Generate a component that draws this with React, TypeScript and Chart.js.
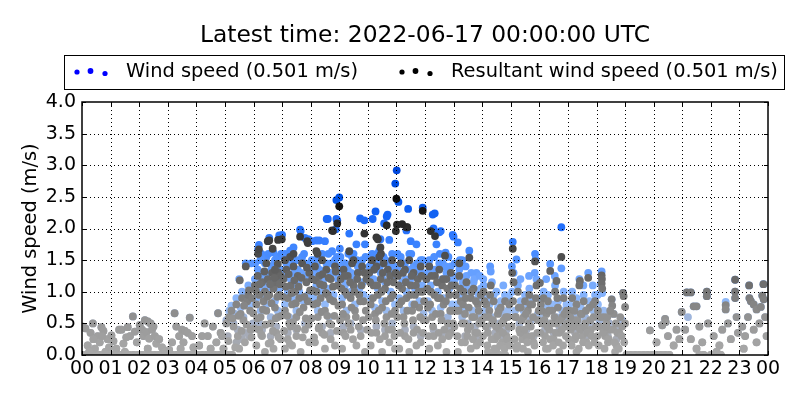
import React, { useEffect, useRef } from "react";
import { Chart, registerables } from "chart.js";

Chart.register(...registerables);

const titleText = "Latest time: 2022-06-17 00:00:00 UTC";
const seriesLabels = ["Wind speed (0.501 m/s)", "Resultant wind speed (0.501 m/s)"];
const yAxisLabel = "Wind speed (m/s)";
const hourLabels = ["00","01","02","03","04","05","06","07","08","09","10","11","12","13","14","15","16","17","18","19","20","21","22","23","00"];

// hours with calm readings (0 m/s for both series)
const calmHours = [0.0,0.15,0.3,0.45,0.6,0.75,0.9,1.05,1.2,1.35,1.5,1.65,1.8,1.95,2.1,2.25,2.4,2.55,2.7,2.85,3.0,3.15,3.3,3.45,3.6,3.75,3.9,4.05,4.2,4.35,4.5,4.65,4.8,4.95,5.1,5.25,14.4,14.6,14.8,19.05,19.2,19.35,19.5,19.65,19.8,19.95,20.1,20.25,20.4,20.55,21.6,21.75,22.0,22.2,22.35];

// night / evening readings, where wind speed and resultant coincide
const quietPoints: [number, number][] = [
  [0.03,0.45],[0.12,0.42],[0.2,0.15],[0.3,0.35],[0.38,0.5],[0.45,0.1],[0.55,0.3],[0.62,0.2],[0.68,0.44],[0.75,0.38],[0.82,0.05],[0.9,0.25],[0.95,0.12],[0.4,0.25],[0.25,0.05],[0.7,0.3],
  [1.03,0.31],[1.1,0.22],[1.2,0.1],[1.3,0.4],[1.38,0.4],[1.45,0.18],[1.5,0.05],[1.6,0.44],[1.68,0.3],[1.78,0.61],[1.85,0.37],[1.92,0.2],[1.55,0.28],
  [2.02,0.47],[2.1,0.4],[2.15,0.3],[2.2,0.55],[2.25,0.36],[2.3,0.53],[2.35,0.26],[2.4,0.5],[2.45,0.4],[2.5,0.45],[2.55,0.3],[2.6,0.18],[2.7,0.25],[2.8,0.12],[2.9,0.05],[2.3,0.1],
  [3.05,0.08],[3.15,0.2],[3.24,0.66],[3.3,0.45],[3.4,0.3],[3.5,0.4],[3.55,0.2],[3.6,0.38],[3.7,0.35],[3.77,0.59],[3.85,0.3],[3.9,0.12],[3.45,0.1],
  [4.1,0.15],[4.2,0.3],[4.29,0.5],[4.4,0.3],[4.5,0.1],[4.58,0.45],[4.7,0.2],[4.76,0.66],[4.85,0.35],[4.9,0.3],[4.95,0.1],
  [19.87,0.39],[20.3,0.47],[20.4,0.57],[20.42,0.52],[20.1,0.2],[20.5,0.3],[20.7,0.15],[20.98,0.68],[20.8,0.4],[20.9,0.25],
  [21.16,0.99],[21.3,0.99],[21.4,0.77],[21.5,0.77],[21.86,1.0],[21.86,0.93],[21.1,0.4],[21.3,0.25],[21.6,0.45],[21.7,0.2],[21.9,0.5],[21.5,0.1],
  [22.52,0.79],[22.52,0.72],[22.1,0.3],[22.3,0.15],[22.4,0.4],[22.6,0.5],[22.7,0.25],[22.85,1.19],[22.85,1.0],[22.85,0.9],[22.9,0.6],[22.95,0.35],[22.2,0.05],
  [23.34,1.1],[23.35,0.9],[23.4,0.85],[23.5,0.8],[23.6,0.72],[23.75,0.76],[23.84,1.12],[23.8,0.94],[23.85,0.88],[23.1,0.45],[23.2,0.3],[23.3,0.6],[23.5,0.4],[23.7,0.5],[23.9,0.6],[23.95,0.3],[23.15,0.1],[23.6,0.2]
];

const windPoints: [number, number][] = [
  [5.05,0.55],[5.1,0.3],[5.15,0.7],[5.23,0.78],[5.3,0.5],[5.35,0.65],[5.4,0.9],[5.45,0.4],[5.5,1.2],[5.55,0.75],[5.6,1.0],[5.65,0.6],[5.7,0.35],[5.73,1.45],[5.78,0.95],[5.82,1.1],[5.88,0.8],[5.92,1.45],[5.95,1.05],[5.98,0.5],[5.4,0.2],[5.6,0.25],[5.85,0.3],
  [6.16,1.67],[6.19,1.74],[6.28,1.6],[6.55,1.85],[6.9,1.89],[7.0,1.9],[6.93,1.84],[6.4,1.45],[6.7,1.62],[6.05,1.2],[6.1,0.9],[6.15,1.35],[6.2,1.05],[6.25,0.7],[6.3,1.25],[6.35,0.95],[6.4,1.1],[6.45,0.8],[6.5,1.3],[6.55,1.05],[6.6,0.6],[6.65,1.4],[6.7,1.15],[6.75,0.85],[6.8,1.25],[6.85,0.7],[6.9,1.05],[6.95,1.35],[6.3,0.4],[6.6,0.3],[6.8,0.45],[6.2,0.5],[6.45,1.55],[6.75,1.5],
  [7.28,1.65],[7.63,1.98],[7.65,1.96],[7.8,1.85],[7.92,1.83],[7.05,1.3],[7.1,0.8],[7.15,1.45],[7.2,1.0],[7.25,0.6],[7.3,1.2],[7.35,0.9],[7.4,1.5],[7.45,1.1],[7.5,0.7],[7.55,1.35],[7.6,1.0],[7.7,1.55],[7.75,0.85],[7.85,1.25],[7.9,0.95],[7.95,1.4],[7.5,0.4],[7.2,0.35],[7.8,0.5],[7.4,1.7],[7.1,1.6],
  [8.05,1.8],[8.2,1.81],[8.3,1.81],[8.5,1.8],[8.56,2.15],[8.6,2.15],[8.9,2.15],[8.93,2.13],[8.88,1.99],[8.9,2.45],[8.75,1.64],[8.08,1.3],[8.1,0.9],[8.15,1.5],[8.2,1.1],[8.25,0.7],[8.3,1.35],[8.35,1.0],[8.4,1.6],[8.45,1.2],[8.5,0.8],[8.55,1.45],[8.6,1.05],[8.65,0.6],[8.7,1.3],[8.8,0.95],[8.85,1.5],[8.95,1.2],[8.4,0.45],[8.7,0.35],
  [9.0,2.49],[9.02,1.68],[9.35,1.92],[9.6,1.75],[9.73,2.16],[9.88,2.13],[9.9,1.75],[9.05,1.3],[9.1,0.9],[9.15,1.45],[9.2,1.1],[9.25,0.7],[9.3,1.35],[9.4,1.0],[9.45,1.55],[9.5,1.2],[9.55,0.8],[9.65,1.4],[9.7,1.05],[9.8,1.5],[9.85,0.95],[9.95,1.3],[9.4,0.5],[9.75,0.4],[9.15,0.45],[9.5,1.6],
  [10.17,2.15],[10.27,2.27],[10.57,2.08],[10.66,2.19],[10.69,2.22],[10.96,2.71],[11.01,2.92],[11.07,2.42],[10.44,1.83],[10.75,1.82],[10.05,1.4],[10.1,0.9],[10.15,1.6],[10.2,1.2],[10.25,0.75],[10.3,1.5],[10.35,1.05],[10.4,1.65],[10.45,1.3],[10.5,0.85],[10.55,1.55],[10.6,1.15],[10.65,0.7],[10.7,1.45],[10.8,1.0],[10.85,1.6],[10.9,1.25],[10.95,0.8],[10.3,0.45],[10.6,0.4],[10.85,0.5],
  [11.41,2.31],[11.92,2.33],[11.35,1.97],[11.5,1.8],[11.7,1.75],[11.05,1.35],[11.1,0.9],[11.15,1.55],[11.2,1.15],[11.25,0.7],[11.3,1.45],[11.35,1.0],[11.45,1.6],[11.5,1.2],[11.55,0.8],[11.6,1.4],[11.65,1.05],[11.75,1.3],[11.8,0.85],[11.85,1.5],[11.9,1.1],[11.95,0.65],[11.3,0.4],[11.6,0.45],[11.85,0.3],
  [12.27,2.22],[12.34,2.24],[12.3,2.0],[12.5,1.94],[12.55,1.96],[12.97,1.9],[13.0,1.87],[12.72,1.62],[12.4,1.75],[12.05,1.3],[12.1,0.85],[12.15,1.5],[12.2,1.1],[12.25,0.7],[12.35,1.35],[12.45,1.0],[12.5,1.45],[12.55,0.75],[12.6,1.2],[12.65,0.9],[12.75,1.3],[12.8,0.6],[12.85,1.05],[12.9,1.4],[12.95,0.8],[12.3,0.4],[12.6,0.35],[12.9,0.45],
  [13.15,1.78],[13.55,1.65],[13.3,1.5],[13.8,1.3],[13.05,1.2],[13.1,0.8],[13.2,1.35],[13.25,0.95],[13.3,0.6],[13.35,1.1],[13.4,0.75],[13.45,1.25],[13.5,0.5],[13.6,1.0],[13.65,0.7],[13.7,1.15],[13.75,0.45],[13.85,0.9],[13.9,0.6],[13.95,1.05],[13.4,0.3],[13.8,0.25],
  [14.28,1.4],[14.3,1.32],[14.5,1.0],[14.05,1.1],[14.1,0.7],[14.15,0.9],[14.2,0.45],[14.25,0.8],[14.35,0.6],[14.4,0.95],[14.45,0.35],[14.55,0.75],[14.6,0.5],[14.65,0.85],[14.7,0.3],[14.75,0.65],[14.8,0.95],[14.85,0.4],[14.9,0.7],[14.95,0.9],
  [15.07,1.79],[15.2,1.51],[15.85,1.6],[15.87,1.51],[15.1,1.3],[15.05,1.0],[15.15,0.7],[15.25,1.1],[15.3,0.5],[15.35,0.85],[15.4,0.35],[15.45,0.7],[15.5,0.95],[15.55,0.4],[15.6,0.8],[15.65,1.05],[15.7,0.55],[15.75,0.9],[15.8,0.3],[15.9,1.2],[15.95,0.65],
  [16.38,1.44],[16.77,2.02],[16.77,1.37],[16.05,0.9],[16.1,0.6],[16.15,1.0],[16.2,0.4],[16.25,0.75],[16.3,0.95],[16.35,0.5],[16.45,0.8],[16.5,0.35],[16.55,1.1],[16.6,0.6],[16.65,0.85],[16.7,0.45],[16.8,0.7],[16.85,1.0],[16.9,0.55],[16.95,0.8],
  [17.71,1.3],[17.87,1.1],[17.05,0.8],[17.1,0.5],[17.15,1.0],[17.2,0.65],[17.25,0.35],[17.3,0.9],[17.35,0.55],[17.4,1.2],[17.45,0.75],[17.5,0.4],[17.55,0.95],[17.6,0.6],[17.65,0.3],[17.75,0.85],[17.8,0.5],[17.9,0.7],[17.95,0.95],
  [18.18,1.32],[18.15,1.13],[18.2,0.98],[18.05,0.8],[18.1,0.55],[18.25,0.7],[18.3,0.4],[18.35,0.6],[18.4,0.3],[18.45,0.5],[18.53,0.88],[18.6,0.65],[18.7,0.25],[18.8,0.45],[18.9,0.55],[18.93,0.98],
  [21.2,0.6],[22.52,0.84]
];

// further wind-speed readings filling the daytime cloud
const windPointsMore: [number, number][] = [
  [6.06,1.45],[6.12,1.15],[6.24,1.5],[6.34,1.3],[6.44,1.2],[6.52,1.6],[6.62,1.35],[6.72,1.45],[6.82,1.55],[6.87,1.2],[6.97,1.6],
  [7.04,1.55],[7.14,1.25],[7.22,1.4],[7.32,1.6],[7.42,1.3],[7.52,1.5],[7.57,1.15],[7.67,1.3],[7.77,1.6],[7.82,1.45],[7.97,1.25],
  [8.04,1.5],[8.12,1.25],[8.22,1.4],[8.32,1.55],[8.42,1.15],[8.52,1.35],[8.62,1.6],[8.72,1.45],[8.82,1.3],[8.92,1.55],[8.97,1.4],
  [9.04,1.55],[9.12,1.2],[9.22,1.45],[9.32,1.6],[9.42,1.3],[9.52,1.25],[9.62,1.5],[9.72,1.35],[9.82,1.15],[9.92,1.55],
  [10.04,1.25],[10.12,1.45],[10.22,1.35],[10.32,1.6],[10.42,1.4],[10.52,1.2],[10.62,1.5],[10.72,1.3],[10.82,1.4],[10.92,1.4],
  [11.04,1.6],[11.12,1.3],[11.22,1.45],[11.32,1.2],[11.42,1.35],[11.52,1.6],[11.62,1.25],[11.72,1.45],[11.82,1.35],[11.92,1.5],
  [12.04,1.2],[12.12,1.45],[12.22,1.3],[12.32,1.55],[12.42,1.35],[12.52,1.6],[12.62,1.45],[12.72,1.4],[12.82,1.55],[12.92,1.2],
  [13.04,1.45],[13.12,1.25],[13.22,1.5],[13.32,1.15],[13.42,1.4],[13.52,1.05],[13.62,1.3],[13.72,1.2],[13.82,1.0],[13.92,1.25],
  [14.04,1.2],[14.34,1.15],[14.74,1.1],[15.04,1.4],[15.34,1.2],[15.64,1.25],[15.84,1.3],[16.24,1.2],[16.54,1.25],[17.54,1.1],[18.04,0.95]
];

const resultantPoints: [number, number][] = [
  [5.05,0.5],[5.15,0.6],[5.23,0.7],[5.3,0.45],[5.4,0.8],[5.45,0.3],[5.52,1.18],[5.55,0.65],[5.6,0.9],[5.65,0.55],[5.73,1.4],[5.78,0.85],[5.82,0.95],[5.88,0.7],[5.95,0.9],[5.5,0.1],[5.7,0.2],[5.9,0.4],
  [6.16,1.6],[6.19,1.67],[6.5,1.8],[6.55,1.81],[6.67,1.68],[6.86,1.82],[6.99,1.83],[6.85,1.44],[6.86,1.31],[6.05,1.1],[6.1,0.8],[6.15,1.25],[6.2,0.95],[6.25,0.6],[6.3,1.15],[6.35,0.85],[6.4,1.0],[6.45,0.7],[6.5,1.2],[6.55,0.95],[6.6,0.5],[6.65,1.3],[6.7,1.05],[6.75,0.75],[6.8,1.15],[6.85,0.6],[6.9,0.95],[6.95,1.25],[6.3,0.3],[6.6,0.2],[6.8,0.35],[6.2,0.4],[6.45,1.45],[6.75,1.35],[6.1,0.15],[6.4,0.05],[6.7,0.1],[6.95,0.25],
  [7.28,1.55],[7.63,1.87],[7.88,1.8],[7.9,1.77],[7.05,1.2],[7.1,0.7],[7.15,1.35],[7.2,0.9],[7.25,0.5],[7.3,1.1],[7.35,0.8],[7.4,1.4],[7.45,1.0],[7.5,0.6],[7.55,1.25],[7.6,0.9],[7.7,1.45],[7.75,0.75],[7.85,1.15],[7.9,0.85],[7.95,1.3],[7.5,0.3],[7.2,0.25],[7.8,0.4],[7.1,0.1],[7.35,0.15],[7.65,0.05],[7.95,0.2],[7.4,1.6],[7.1,1.5],[7.3,0.45],
  [8.2,1.64],[8.24,1.6],[8.75,1.97],[8.78,1.96],[8.93,2.08],[8.05,1.2],[8.1,0.8],[8.15,1.4],[8.2,1.0],[8.25,0.6],[8.3,1.25],[8.35,0.9],[8.4,1.5],[8.45,1.1],[8.5,0.7],[8.55,1.35],[8.6,0.95],[8.65,0.5],[8.7,1.2],[8.8,0.85],[8.85,1.4],[8.95,1.1],[8.4,0.35],[8.7,0.25],[8.15,0.2],[8.5,0.1],[8.85,0.15],[8.3,0.45],
  [9.0,2.35],[9.35,1.64],[9.88,1.92],[9.05,1.2],[9.1,0.8],[9.15,1.35],[9.2,1.0],[9.25,0.6],[9.3,1.25],[9.4,0.9],[9.45,1.45],[9.5,1.1],[9.55,0.7],[9.65,1.3],[9.7,0.95],[9.8,1.4],[9.85,0.85],[9.95,1.2],[9.4,0.4],[9.75,0.3],[9.15,0.35],[9.1,0.1],[9.6,0.15],[9.9,0.05],[9.5,1.5],
  [10.3,1.86],[10.35,1.83],[10.44,1.7],[10.46,1.6],[10.66,2.05],[10.98,1.96],[11.0,2.47],[10.05,1.3],[10.1,0.8],[10.15,1.5],[10.2,1.1],[10.25,0.65],[10.3,1.4],[10.35,0.95],[10.4,1.55],[10.45,1.2],[10.5,0.75],[10.55,1.45],[10.6,1.05],[10.65,0.6],[10.7,1.35],[10.8,0.9],[10.85,1.5],[10.9,1.15],[10.95,0.7],[10.3,0.35],[10.6,0.3],[10.85,0.4],[10.1,0.15],[10.5,0.05],[10.75,0.2],[10.95,0.1],
  [11.02,2.06],[11.35,2.02],[11.38,2.02],[11.2,2.07],[11.92,2.28],[11.05,1.25],[11.1,0.8],[11.15,1.45],[11.2,1.05],[11.25,0.6],[11.3,1.35],[11.35,0.9],[11.45,1.5],[11.5,1.1],[11.55,0.7],[11.6,1.3],[11.65,0.95],[11.75,1.2],[11.8,0.75],[11.85,1.4],[11.9,1.0],[11.95,0.55],[11.3,0.3],[11.6,0.35],[11.85,0.2],[11.1,0.1],[11.45,0.05],[11.7,0.15],
  [12.2,1.96],[12.35,1.88],[12.7,1.57],[12.05,1.2],[12.1,0.75],[12.15,1.4],[12.2,1.0],[12.25,0.6],[12.35,1.25],[12.45,0.9],[12.5,1.35],[12.55,0.65],[12.6,1.1],[12.65,0.8],[12.75,1.2],[12.8,0.5],[12.85,0.95],[12.9,1.3],[12.95,0.7],[12.3,0.3],[12.6,0.25],[12.9,0.35],[12.15,0.1],[12.45,0.15],[12.75,0.05],
  [13.55,1.54],[13.2,1.45],[13.05,1.1],[13.1,0.7],[13.2,1.25],[13.25,0.85],[13.3,0.5],[13.35,1.0],[13.4,0.65],[13.45,1.15],[13.5,0.4],[13.6,0.9],[13.65,0.6],[13.7,1.05],[13.75,0.35],[13.85,0.8],[13.9,0.5],[13.95,0.95],[13.4,0.2],[13.8,0.15],[13.15,0.05],[13.6,0.1],
  [14.05,1.0],[14.1,0.6],[14.15,0.8],[14.2,0.35],[14.25,0.7],[14.35,0.5],[14.4,0.85],[14.45,0.25],[14.55,0.65],[14.6,0.4],[14.65,0.75],[14.7,0.2],[14.75,0.55],[14.8,0.85],[14.85,0.3],[14.9,0.6],[14.95,0.8],[14.3,1.1],[14.5,0.1],[14.2,0.05],[14.8,0.15],
  [15.07,1.68],[15.05,1.3],[15.1,1.15],[15.15,0.6],[15.25,1.0],[15.3,0.4],[15.35,0.75],[15.4,0.25],[15.45,0.6],[15.5,0.85],[15.55,0.3],[15.6,0.7],[15.65,0.95],[15.7,0.45],[15.75,0.8],[15.8,0.2],[15.85,1.48],[15.9,1.1],[15.95,0.55],[15.2,0.1],[15.6,0.05],
  [16.02,1.14],[16.38,1.33],[16.6,1.17],[16.77,1.55],[16.05,0.8],[16.1,0.5],[16.15,0.9],[16.2,0.3],[16.25,0.65],[16.3,0.85],[16.35,0.4],[16.45,0.7],[16.5,0.25],[16.55,1.0],[16.6,0.5],[16.65,0.75],[16.7,0.35],[16.8,0.6],[16.85,0.9],[16.9,0.45],[16.95,0.7],[16.3,0.1],[16.7,0.05],
  [17.42,1.17],[17.71,1.22],[17.05,0.7],[17.1,0.4],[17.15,0.9],[17.2,0.55],[17.25,0.25],[17.3,0.8],[17.35,0.45],[17.4,1.1],[17.45,0.65],[17.5,0.3],[17.55,0.85],[17.6,0.5],[17.65,0.2],[17.75,0.75],[17.8,0.4],[17.9,0.6],[17.95,0.85],[17.3,0.05],
  [18.18,1.26],[18.19,1.2],[18.18,1.13],[18.2,1.05],[18.05,0.7],[18.1,0.45],[18.25,0.6],[18.3,0.3],[18.35,0.5],[18.4,0.2],[18.45,0.4],[18.53,0.88],[18.55,0.78],[18.6,0.65],[18.7,0.15],[18.8,0.35],[18.9,0.45],[18.93,0.98],[18.95,0.93],[19.0,0.76],[19.0,0.5],[18.65,0.05]
];

// further resultant readings filling the daytime cloud
const resultantPointsMore: [number, number][] = [
  [5.12,0.22],[5.27,0.58],[5.36,0.12],[5.48,0.62],[5.58,0.38],[5.67,0.78],[5.76,0.48],[5.84,1.02],[5.93,0.28],[5.99,0.66],
  [6.03,0.42],[6.08,1.02],[6.13,0.58],[6.22,1.12],[6.27,0.32],[6.33,0.72],[6.38,1.32],[6.42,0.48],[6.48,0.92],[6.53,0.18],[6.58,1.12],[6.63,0.82],[6.68,0.38],[6.73,1.22],[6.78,0.58],[6.83,0.92],[6.88,0.28],[6.92,1.12],[6.97,0.62],
  [7.03,0.92],[7.07,0.38],[7.13,1.08],[7.18,0.62],[7.23,1.28],[7.27,0.18],[7.33,0.98],[7.38,0.52],[7.43,1.18],[7.48,0.82],[7.53,0.42],[7.58,1.08],[7.62,0.68],[7.68,1.22],[7.72,0.28],[7.78,0.92],[7.83,0.58],[7.87,1.38],[7.93,0.48],[7.98,1.02],
  [8.03,0.58],[8.07,1.02],[8.12,0.28],[8.18,1.18],[8.23,0.82],[8.28,0.42],[8.33,1.12],[8.38,0.68],[8.42,1.28],[8.48,0.32],[8.53,0.98],[8.58,0.62],[8.63,1.22],[8.68,0.88],[8.72,0.48],[8.78,1.08],[8.83,0.62],[8.88,1.32],[8.92,0.38],[8.97,0.78],
  [9.03,0.55],[9.08,1.05],[9.13,0.65],[9.18,1.25],[9.22,0.3],[9.28,0.95],[9.33,0.5],[9.38,1.15],[9.43,0.75],[9.48,0.25],[9.53,1.0],[9.58,0.6],[9.63,1.2],[9.68,0.45],[9.73,0.85],[9.78,1.1],[9.83,0.55],[9.88,1.3],[9.93,0.7],[9.98,0.4],
  [10.03,0.6],[10.08,1.15],[10.13,0.35],[10.18,0.9],[10.22,1.35],[10.28,0.55],[10.33,1.1],[10.38,0.7],[10.42,0.25],[10.48,1.0],[10.52,1.3],[10.58,0.5],[10.63,0.85],[10.68,1.15],[10.72,0.4],[10.78,1.25],[10.83,0.65],[10.88,0.95],[10.93,0.3],[10.97,1.3],
  [11.03,0.6],[11.08,1.1],[11.13,0.35],[11.18,0.85],[11.23,1.3],[11.28,0.5],[11.33,1.15],[11.38,0.7],[11.42,0.25],[11.48,0.95],[11.53,1.25],[11.58,0.55],[11.63,0.8],[11.68,1.1],[11.72,0.4],[11.78,1.0],[11.83,0.6],[11.88,1.25],[11.93,0.35],[11.97,0.85],
  [12.03,0.55],[12.08,1.05],[12.13,0.3],[12.18,0.8],[12.22,1.25],[12.28,0.45],[12.33,0.95],[12.38,0.65],[12.42,1.15],[12.48,0.35],[12.53,0.9],[12.58,0.55],[12.63,1.2],[12.68,0.4],[12.73,0.85],[12.78,1.05],[12.83,0.3],[12.88,0.7],[12.93,1.1],[12.98,0.5],
  [13.03,0.45],[13.08,0.95],[13.13,0.3],[13.18,0.7],[13.23,1.05],[13.28,0.2],[13.33,0.8],[13.38,0.5],[13.43,0.9],[13.48,0.3],[13.53,0.75],[13.58,0.45],[13.63,1.0],[13.68,0.25],[13.73,0.6],[13.78,0.85],[13.83,0.35],[13.88,0.7],[13.93,0.2],[13.98,0.55],
  [14.03,0.3],[14.08,0.85],[14.13,0.45],[14.18,0.15],[14.23,0.6],[14.28,0.95],[14.33,0.25],[14.38,0.55],[14.43,0.1],[14.48,0.45],[14.53,0.3],[14.58,0.7],[14.63,0.15],[14.68,0.5],[14.73,0.35],[14.78,0.1],[14.83,0.6],[14.88,0.25],[14.93,0.45],[14.98,0.15],
  [15.03,0.45],[15.08,0.85],[15.13,0.25],[15.18,0.6],[15.23,0.15],[15.28,0.75],[15.33,0.35],[15.38,0.55],[15.43,0.1],[15.48,0.4],[15.53,0.65],[15.58,0.2],[15.63,0.5],[15.68,0.8],[15.73,0.3],[15.78,0.6],[15.83,0.15],[15.88,0.9],[15.93,0.35],[15.98,0.7],
  [16.03,0.35],[16.08,0.7],[16.13,0.2],[16.18,0.55],[16.23,0.1],[16.28,0.45],[16.33,0.7],[16.38,0.25],[16.43,0.5],[16.48,0.15],[16.53,0.6],[16.58,0.35],[16.63,0.9],[16.68,0.2],[16.73,0.55],[16.78,0.4],[16.83,0.15],[16.88,0.65],[16.93,0.3],[16.98,0.5],
  [17.03,0.25],[17.08,0.6],[17.13,0.15],[17.18,0.45],[17.23,0.7],[17.28,0.3],[17.33,0.55],[17.38,0.1],[17.43,0.4],[17.48,0.65],[17.53,0.2],[17.58,0.45],[17.63,0.7],[17.68,0.35],[17.73,0.15],[17.78,0.55],[17.83,0.3],[17.88,0.8],[17.93,0.2],[17.98,0.45],
  [18.03,0.3],[18.08,0.15],[18.13,0.6],[18.23,0.35],[18.28,0.1],[18.33,0.45],[18.38,0.6],[18.43,0.25],[18.48,0.7],[18.58,0.4],[18.63,0.2],[18.68,0.5],[18.73,0.35],[18.78,0.1],[18.83,0.6],[18.88,0.3],[18.97,0.2]
];

type Stop = [number, [number, number, number]];
const windColorStops: Stop[] = [
  [0, [165, 165, 165]], [0.45, [166, 174, 192]], [0.75, [150, 188, 248]], [1.2, [112, 166, 255]],
  [1.6, [72, 140, 255]], [2.0, [35, 112, 252]], [2.5, [0, 82, 232]], [3.0, [0, 70, 220]]
];
const resultantColorStops: Stop[] = [
  [0, [170, 170, 170]], [0.5, [152, 152, 152]], [0.9, [126, 126, 126]], [1.3, [98, 98, 98]],
  [1.7, [68, 68, 68]], [2.0, [45, 45, 45]], [2.4, [15, 15, 15]]
];

function rampColor(stops: Stop[], v: number): string {
  if (v <= stops[0][0]) return `rgb(${stops[0][1].join(",")})`;
  for (let i = 1; i < stops.length; i++) {
    if (v <= stops[i][0]) {
      const [v0, c0] = stops[i - 1];
      const [v1, c1] = stops[i];
      const t = (v - v0) / (v1 - v0);
      const c = c0.map((a, k) => Math.round(a + (c1[k] - a) * t));
      return `rgb(${c.join(",")})`;
    }
  }
  return `rgb(${stops[stops.length - 1][1].join(",")})`;
}

const FONT = '"DejaVu Sans", sans-serif';

const decorPlugin = {
  id: "decor",
  afterDatasetsDraw(chart: any) {
    const { ctx, chartArea, scales } = chart;
    const { left, right, top, bottom } = chartArea;
    const x = scales.x;
    const y = scales.y;
    ctx.save();
    ctx.strokeStyle = "#000";
    ctx.lineWidth = 1;
    ctx.setLineDash([1, 3]);
    for (let h = 1; h < hourLabels.length - 1; h++) {
      const px = Math.round(x.getPixelForValue(h)) + 0.5;
      ctx.beginPath();
      ctx.moveTo(px, top);
      ctx.lineTo(px, bottom);
      ctx.stroke();
    }
    for (let v = 0.5; v < 4; v += 0.5) {
      const py = Math.round(y.getPixelForValue(v)) + 0.5;
      ctx.beginPath();
      ctx.moveTo(left, py);
      ctx.lineTo(right, py);
      ctx.stroke();
    }
    ctx.setLineDash([]);
    for (let h = 0; h < hourLabels.length; h++) {
      const px = Math.round(x.getPixelForValue(h)) + 0.5;
      ctx.beginPath();
      ctx.moveTo(px, bottom);
      ctx.lineTo(px, bottom - 4);
      ctx.moveTo(px, top);
      ctx.lineTo(px, top + 4);
      ctx.stroke();
    }
    for (let v = 0; v <= 4; v += 0.5) {
      const py = Math.round(y.getPixelForValue(v)) + 0.5;
      ctx.beginPath();
      ctx.moveTo(left, py);
      ctx.lineTo(left + 4, py);
      ctx.moveTo(right, py);
      ctx.lineTo(right - 4, py);
      ctx.stroke();
    }
    ctx.lineWidth = 1.5;
    ctx.strokeRect(left, top, right - left, bottom - top);
    ctx.restore();
  },
  afterDraw(chart: any) {
    const { ctx, chartArea } = chart;
    const cx = (chartArea.left + chartArea.right) / 2;
    ctx.save();
    ctx.fillStyle = "#000";
    ctx.font = `23.4px ${FONT}`;
    ctx.textAlign = "center";
    ctx.textBaseline = "alphabetic";
    ctx.fillText(titleText, cx, 42);

    // legend box
    ctx.fillStyle = "#fff";
    ctx.fillRect(64, 55, 721, 35);
    ctx.strokeStyle = "#000";
    ctx.lineWidth = 1;
    ctx.strokeRect(64.5, 55.5, 720, 34);
    const dots = (x0: number, color: string) => {
      ctx.fillStyle = color;
      const offs = [[0, 72, 2.6], [13.5, 71, 2.9], [28, 73.5, 2.6]];
      for (const [dx, yy, r] of offs) {
        ctx.beginPath();
        ctx.arc(x0 + dx, yy, r, 0, Math.PI * 2);
        ctx.fill();
      }
    };
    dots(77, "#0000ff");
    dots(402, "#000000");
    ctx.fillStyle = "#000";
    ctx.font = `19.4px ${FONT}`;
    ctx.textAlign = "left";
    ctx.textBaseline = "middle";
    ctx.fillText(seriesLabels[0], 126, 72);
    ctx.fillText(seriesLabels[1], 451, 72);

    // y axis label
    ctx.translate(31, (chartArea.top + chartArea.bottom) / 2);
    ctx.rotate(-Math.PI / 2);
    ctx.textAlign = "center";
    ctx.textBaseline = "middle";
    ctx.fillText(yAxisLabel, 0, 0);
    ctx.restore();
  }
};

export default function App() {
  const canvasRef = useRef<HTMLCanvasElement | null>(null);

  useEffect(() => {
    document.body.style.margin = "0";
    const canvas = canvasRef.current;
    if (!canvas) return;
    const toXY = (p: [number, number]) => ({ x: p[0], y: p[1] });
    const calm = calmHours.map((h) => ({ x: h, y: 0 }));
    const quiet = quietPoints.map(toXY);
    const wind = [...calm, ...quiet, ...windPoints.map(toXY), ...windPointsMore.map(toXY)];
    const res = [...calm, ...quiet, ...resultantPoints.map(toXY), ...resultantPointsMore.map(toXY)];

    const chart = new Chart(canvas, {
      type: "scatter",
      data: {
        datasets: [
          {
            label: seriesLabels[1],
            data: res,
            pointRadius: 3.9,
            pointBorderWidth: 0,
            pointHoverRadius: 3.9,
            backgroundColor: (c: any) => rampColor(resultantColorStops, c.raw ? c.raw.y : 0),
            clip: 0
          },
          {
            label: seriesLabels[0],
            data: wind,
            pointRadius: 3.9,
            pointBorderWidth: 0,
            pointHoverRadius: 3.9,
            backgroundColor: (c: any) => rampColor(windColorStops, c.raw ? c.raw.y : 0),
            clip: 0
          }
        ]
      } as any,
      plugins: [decorPlugin],
      options: {
        responsive: false,
        animation: false,
        devicePixelRatio: 1,
        events: [],
        layout: { padding: { left: 0, right: 32, top: 102, bottom: 0 } },
        plugins: { legend: { display: false }, title: { display: false }, tooltip: { enabled: false } },
        scales: {
          x: {
            type: "linear",
            min: 0,
            max: 24,
            afterFit: (s: any) => { s.height = 45; },
            grid: { display: false, drawTicks: false },
            border: { display: false },
            ticks: {
              stepSize: 1,
              autoSkip: false,
              maxRotation: 0,
              padding: 3,
              color: "#000",
              font: { family: FONT, size: 19 },
              callback: (v: any) => hourLabels[Math.round(Number(v))] ?? ""
            }
          },
          y: {
            type: "linear",
            min: 0,
            max: 4,
            afterFit: (s: any) => { s.width = 82; },
            grid: { display: false, drawTicks: false },
            border: { display: false },
            ticks: {
              stepSize: 0.5,
              padding: 6,
              color: "#000",
              font: { family: FONT, size: 19 },
              callback: (v: any) => Number(v).toFixed(1)
            }
          }
        }
      } as any
    });
    return () => chart.destroy();
  }, []);

  return (
    <div style={{ width: 800, height: 400, background: "#fff" }}>
      <canvas ref={canvasRef} width={800} height={400} style={{ display: "block" }} />
    </div>
  );
}
